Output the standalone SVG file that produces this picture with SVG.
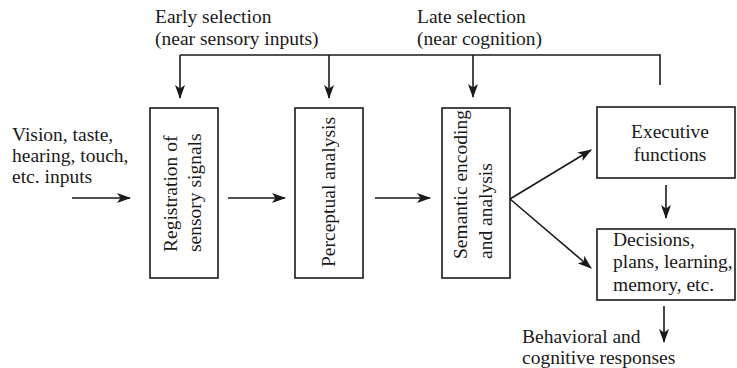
<svg xmlns="http://www.w3.org/2000/svg" width="737" height="368" viewBox="0 0 737 368">
<defs>
<style>
text{font-family:"Liberation Serif","Times New Roman",serif;font-size:19.5px;fill:#1a1a1a}
.box{fill:#fff;stroke:#1a1a1a;stroke-width:1.6}
.ln{fill:none;stroke:#1a1a1a;stroke-width:1.6}
.arr{fill:none;stroke:#1a1a1a;stroke-width:1.6;marker-end:url(#ah)}
</style>
<marker id="ah" viewBox="0 0 14 10" refX="13" refY="5" markerWidth="14" markerHeight="10" markerUnits="userSpaceOnUse" orient="auto">
<path d="M0,0 L14,5 L0,10 L3.5,5 z" fill="#1a1a1a"/>
</marker>
</defs>
<rect width="737" height="368" fill="#fff"/>

<g id="connectors">
<path class="ln" d="M180,55 H660 V85"/>
<path class="arr" d="M180,55 V98"/>
<path class="arr" d="M329,55 V98"/>
<path class="arr" d="M473,55 V97"/>
<path class="arr" d="M72,198 H130"/>
<path class="arr" d="M228,198 H285"/>
<path class="arr" d="M375,198 H430"/>
<path class="arr" d="M510,199 L591,150"/>
<path class="arr" d="M510,199 L591,268"/>
<path class="arr" d="M666,185 V218"/>
<path class="arr" d="M664,306 V342"/>
</g>

<g id="label-early">
<text x="155" y="23">Early selection</text>
<text x="155" y="45">(near sensory inputs)</text>
</g>
<g id="label-late">
<text x="417" y="23">Late selection</text>
<text x="417" y="45">(near cognition)</text>
</g>
<g id="inputs">
<text x="12" y="141">Vision, taste,</text>
<text x="12" y="162">hearing, touch,</text>
<text x="12" y="183">etc. inputs</text>
</g>

<g id="registration">
<rect class="box" x="150" y="108" width="68" height="170"/>
<text transform="translate(177,252) rotate(-90)">Registration of</text>
<text transform="translate(201,252) rotate(-90)">sensory signals</text>
</g>
<g id="perceptual">
<rect class="box" x="295" y="108" width="68" height="170"/>
<text transform="translate(335,192) rotate(-90)" text-anchor="middle">Perceptual analysis</text>
</g>
<g id="semantic">
<rect class="box" x="442" y="108" width="68" height="170"/>
<text transform="translate(467,259) rotate(-90)">Semantic encoding</text>
<text transform="translate(492,259) rotate(-90)">and analysis</text>
</g>
<g id="executive">
<rect class="box" x="597" y="107" width="138" height="71"/>
<text x="670" y="138" text-anchor="middle">Executive</text>
<text x="670" y="161" text-anchor="middle">functions</text>
</g>
<g id="decisions">
<rect class="box" x="597" y="229" width="138" height="71"/>
<text x="613" y="246">Decisions,</text>
<text x="613" y="268">plans, learning,</text>
<text x="613" y="291">memory, etc.</text>
</g>
<g id="responses">
<text x="522" y="343">Behavioral and</text>
<text x="522" y="364">cognitive responses</text>
</g>
</svg>
